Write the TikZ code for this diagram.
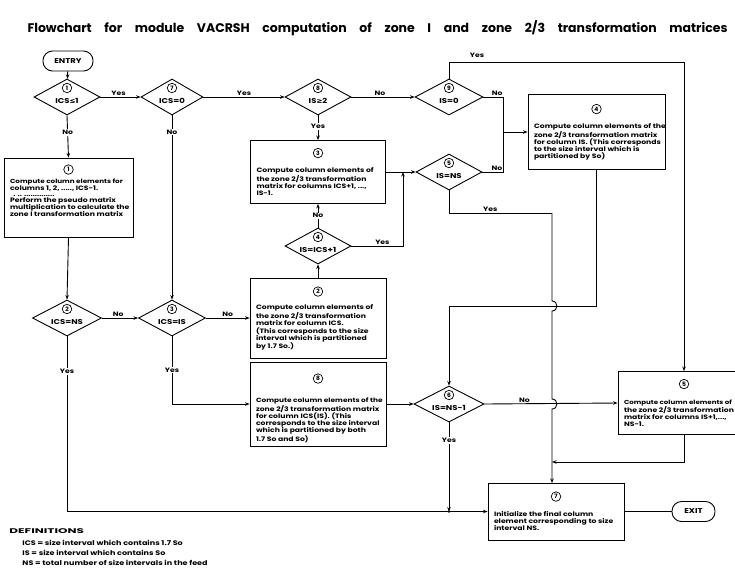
\documentclass[tikz,border=0pt]{standalone}
\usepackage{fontspec}
\setmainfont{Poppins}
\newfontfamily\wf{Poppins}[FakeStretch=1.22]
\newfontfamily\symf{DejaVu Sans}
\usetikzlibrary{shapes.geometric,arrows.meta,calc}
\newcommand\mydia[6]{%
  \node[dia, minimum width=#4pt] (#1) at (#2,#3) {};
  \node[cn] (#1n) at ($(#1)+(0,-9)$) {#5};
  \node[dl] (#1l) at ($(#1)+(0,4)$) {#6};}
\newcommand\mybox[9]{%
  \node[box, minimum width=#4pt, minimum height=#5pt] (#1) at (#2,#3) {};
  \node[cn] (#1n) at ($(#1.north)+(0,#7)$) {#6};
  \node[txt] (#1t) at ($(#1.north west)+(6,#8)$) {#9};}
\begin{document}
\begin{tikzpicture}[x=1pt,y=-1pt,line width=0.9pt,
  arr/.style={-{Stealth[length=4.5pt,width=3.5pt]}},
  dia/.style={draw, diamond, inner sep=0pt, minimum height=36pt},
  box/.style={draw, rectangle, inner sep=0pt},
  cn/.style={draw, circle, line width=0.7pt, inner sep=0pt, minimum size=9.5pt, font=\fontsize{6}{6}\selectfont\bfseries},
  txt/.style={font=\wf\fontsize{6.3}{7.2}\selectfont\bfseries, align=left, inner sep=0pt, anchor=north west},
  lbl/.style={font=\wf\fontsize{6.3}{7}\selectfont\bfseries, inner sep=1pt},
  wl/.style={lbl, fill=white},
  dl/.style={font=\wf\fontsize{7}{8}\selectfont\bfseries, inner sep=0pt},
  term/.style={draw, rounded corners=9.5pt, minimum height=20pt, inner sep=0pt, font=\wf\fontsize{7}{8}\selectfont\bfseries},
  defs/.style={font=\wf\fontsize{6.6}{7}\selectfont\bfseries, anchor=west, inner sep=0pt}]
\useasboundingbox (0,0) rectangle (735,571);
% title
\node[font=\fontsize{12.5}{14}\selectfont\bfseries, inner sep=0pt] (title) at (377.5,28)
  {\makebox[700pt][s]{Flowchart for module VACRSH computation of zone I and zone 2/3 transformation matrices}};
% terminals
\node[term, minimum width=50pt] (entry) at (68,61) {ENTRY};
\node[term, minimum width=43pt] (exit) at (693.5,511.5) {EXIT};
% diamonds
\mydia{d1}{67}{97}{66}{1}{ICS{\symf\bfseries ≤}1}
\mydia{d7}{172}{97}{62}{7}{ICS=0}
\mydia{d8}{318}{97}{66}{8}{IS{\symf\bfseries ≥}2}
\mydia{d9}{449}{97}{68}{9}{IS=0}
\mydia{d5}{449}{172}{66}{5}{IS=NS}
\mydia{d4}{318}{246}{66}{4}{IS=ICS+1}
\mydia{d2}{67}{318}{69}{2}{ICS=NS}
\mydia{d3}{172}{318}{67}{3}{ICS=IS}
\mydia{d6}{449}{404}{70}{6}{IS=NS-1}
% boxes
\mybox{b1}{68.5}{197.5}{129}{79}{1}{12}{21}{\fontsize{5.9}{7.6}\selectfont Compute column elements for\\columns 1, 2, ....., ICS-1.\\[-2pt] \ \ . .. ..............\\[-1pt]Perform the pseudo matrix\\multiplication to calculate the\\zone I transformation matrix}
\mybox{b3}{318}{172}{135}{63}{3}{13}{27}{Compute column elements of\\the zone 2/3 transformation\\matrix for columns ICS+1, ...,\\IS-1.}
\mybox{b4}{596.5}{132}{137}{75}{4}{15}{29}{Compute column elements of the\\zone 2/3 transformation matrix\\for column IS. (This corresponds\\to the size interval which is\\partitioned by So)}
\mybox{b2}{318}{318}{136}{80}{2}{14}{27}{Compute column elements of\\the zone 2/3 transformation\\matrix for column ICS.\\(This corresponds to the size\\interval which is partitioned\\by 1.7 So.)}
\mybox{b8}{318}{404}{136}{84}{8}{17}{36}{\fontsize{6.05}{7.2}\selectfont Compute column elements of the\\zone 2/3 transformation matrix\\for column ICS(IS). (This\\corresponds to the size interval\\which is partitioned by both\\1.7 So and So)}
\mybox{b5}{684}{403}{132}{63}{5}{13}{28}{\fontsize{5.8}{7.2}\selectfont Compute column elements of\\the zone 2/3 transformation\\matrix for columns IS+1,...,\\NS-1.}
\mybox{b7}{556}{511.5}{136}{57}{7}{14}{28}{Initialize the final column\\element corresponding to size\\interval NS.}
% coordinates
\coordinate (c9y) at (684,62);
\coordinate (cj4) at (503,132);
\coordinate (c3j) at (403,172);
\coordinate (c5y) at (552,213);
\coordinate (h1a) at (552,301);
\coordinate (h1b) at (552,311);
\coordinate (h2a) at (552,399);
\coordinate (h2b) at (552,409);
\coordinate (c4b) at (449,306);
\coordinate (c5b) at (684,462);
\coordinate (c5c) at (552,462);
\coordinate (c7t) at (552,483);
\coordinate (c6j) at (449,511.5);
% connectors
\draw[arr] (entry) -- (d1);
\draw[arr] (d1) -- (d7) node[lbl, pos=0.45, above] {Yes};
\draw[arr] (d7) -- (d8) node[lbl, pos=0.5, above] {Yes};
\draw[arr] (d8) -- (d9) node[lbl, pos=0.45, above] {No};
\draw (d9.east) -| (cj4) node[lbl, pos=0.35, above] {No};
\draw (d5.east) -| (cj4) node[lbl, pos=0.35, above] {No};
\draw[arr] (cj4) -- (b4.west);
\draw[arr] (d9.north) |- (c9y) -- (b5.north);
\node[lbl] (y9) at (477,55) {Yes};
\draw[arr] (d1.south) -- (b1.north) node[wl, pos=0.4] {No};
\draw[arr] (d7.south) -- (d3.north) node[wl, pos=0.09] {No};
\draw[arr] (d8.south) -- (b3.north) node[wl, pos=0.45] {Yes};
\draw[arr] (b1.south) -- (d2.north);
\draw[arr] (d2.east) -- (d3.west) node[lbl, pos=0.45, above] {No};
\draw[arr] (d3.east) -- (b2.west) node[lbl, pos=0.5, above] {No};
\draw[arr] (b2.north) -- (d4.south);
\draw[arr] (d4.north) -- (b3.south) node[wl, pos=0.5] {No};
\draw[arr] (d4.east) -| (c3j) node[lbl, pos=0.3, above] {Yes};
\draw[arr] (b3.east) -- (d5.west);
\draw (d5.south) |- (c5y) node[lbl, pos=0.7, above] {Yes};
\draw[arr] (c5y) -- (h1a) .. controls +(6.5,0) and +(6.5,0) .. (h1b) -- (h2a) .. controls +(6.5,0) and +(6.5,0) .. (h2b) -- (c7t);
\draw[arr] (b4.south) |- (c4b) -- (d6.north);
\draw[arr] (b8.east) -- (d6.west);
\draw[arr] (d6.east) -- (b5.west) node[lbl, pos=0.3, above] {No};
\draw[arr] (b5.south) -- (c5b) -- (c5c);
\draw[arr] (d3.south) |- (b8.west) node[wl, pos=0.25] {Yes};
\draw[arr] (d2.south) |- (b7.west) node[wl, pos=0.1] {Yes};
\draw[arr] (d6.south) -- (c6j) node[wl, pos=0.2] {Yes};
\fill (c6j) circle (1.3pt);
\draw (b7.east) -- (exit.west);
% definitions
\node[defs] (def) at (9,531) {\scalebox{1.45}[1]{\fontsize{6.8}{7}\selectfont DEFINITIONS}};
\node[defs] (def1) at (22,543) {ICS = size interval which contains 1.7 So};
\node[defs] (def2) at (22,553) {IS = size interval which contains So};
\node[defs] (def3) at (22,563) {NS = total number of size intervals in the feed};
\end{tikzpicture}
\end{document}
